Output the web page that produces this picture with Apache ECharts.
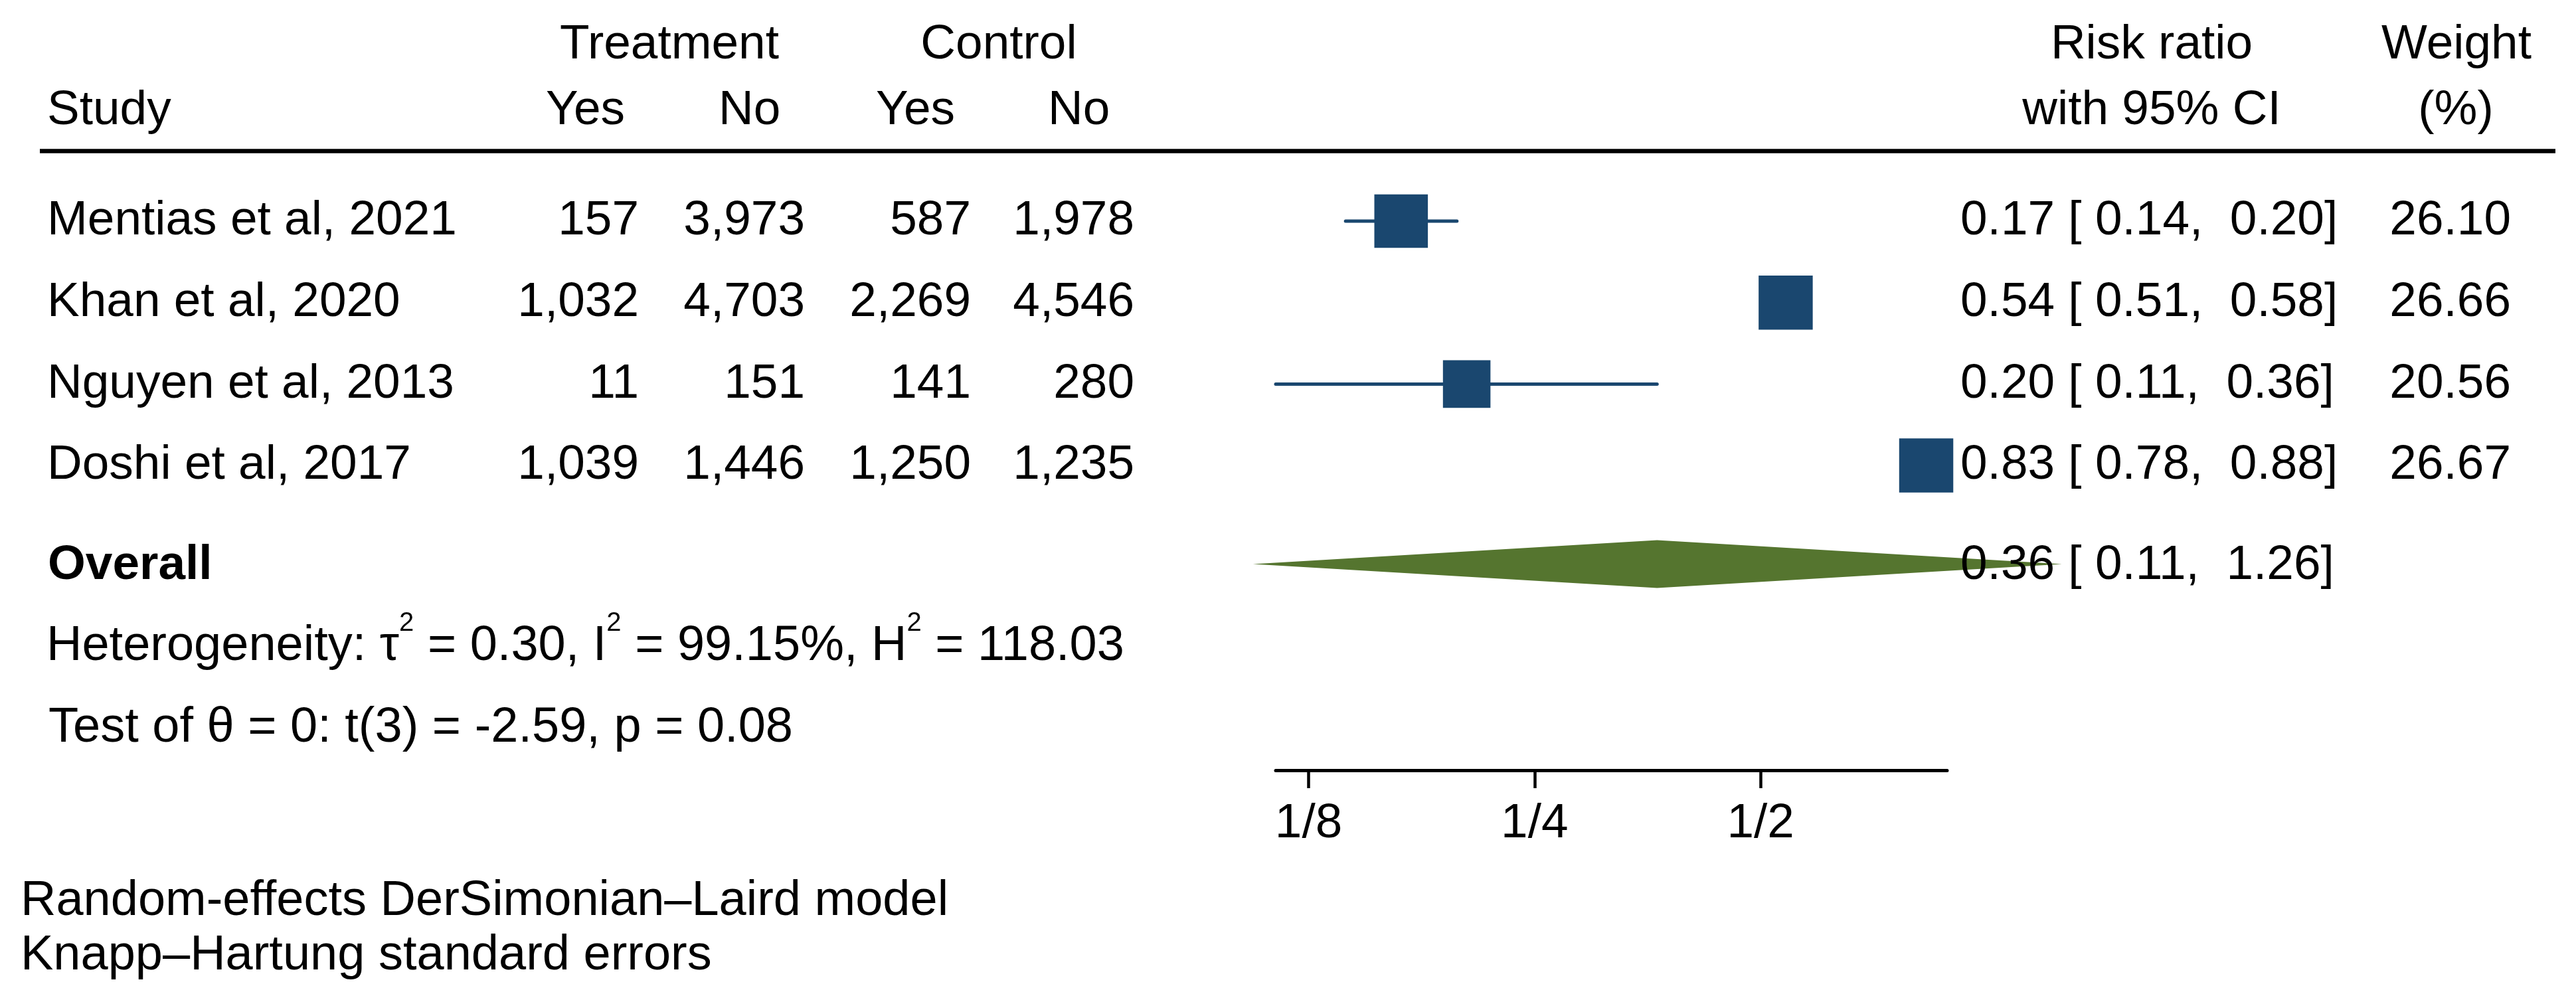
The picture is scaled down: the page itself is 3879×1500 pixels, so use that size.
<!DOCTYPE html>
<html>
<head>
<meta charset="utf-8">
<script src="https://cdn.jsdelivr.net/npm/echarts@6/dist/echarts.min.js"></script>
<style>
html,body{margin:0;padding:0;background:#ffffff;}
#chart{width:3879px;height:1500px;}
</style>
</head>
<body>
<div id="chart"></div>
<script>
// ---------------- data ----------------
const studies   = ['Mentias et al, 2021', 'Khan et al, 2020', 'Nguyen et al, 2013', 'Doshi et al, 2017'];
const treatYes  = [157, 1032, 11, 1039];
const treatNo   = [3973, 4703, 151, 1446];
const ctrlYes   = [587, 2269, 141, 1250];
const ctrlNo    = [1978, 4546, 280, 1235];
const riskRatio = [0.166, 0.540, 0.203, 0.831];
const ciLow     = [0.140, 0.510, 0.113, 0.780];
const ciHigh    = [0.197, 0.575, 0.364, 0.886];
const rrText    = ['0.17', '0.54', '0.20', '0.83'];
const lowText   = ['0.14', '0.51', '0.11', '0.78'];
const highText  = ['0.20', '0.58', '0.36', '0.88'];
const weights   = [26.10, 26.66, 20.56, 26.67];
const overallRR = 0.364, overallLow = 0.1054, overallHigh = 1.26;
const overallText = ['0.36', '0.11', '1.26'];
const tickValues = [0.125, 0.25, 0.5];
const tickLabels = ['1/8', '1/4', '1/2'];
const axisMin = 0.113, axisMax = 0.886;
const heterogeneity = ['0.30', '99.15%', '118.03'];
const testText = 'Test of θ = 0: t(3) = -2.59, p = 0.08';
const notes = ['Random-effects DerSimonian–Laird model', 'Knapp–Hartung standard errors'];

// ---------------- layout ----------------
const FONT = '"Liberation Sans", Arial, Helvetica, sans-serif';
const FS = 73;
const NAVY = '#1a476f';
const GREEN = '#55752f';
const ROW_H = 122.7;
const ROW0_Y = 333;
const AXIS_Y = 1160;
const GRID_L = 1921, GRID_R = 2932;
const OVERALL_ROW = 4.21;
const SQ_K = 15.78;
const DIAMOND_HALF = 36;

const log2 = Math.log2;
const xMin = log2(axisMin), xMax = log2(axisMax);
const yMin = -1;
const gridTop = ROW0_Y + yMin * ROW_H;
const yMax = yMin + (AXIS_Y - gridTop) / ROW_H;
const tickLogs = tickValues.map(log2);
const fmt = n => n.toLocaleString('en-US');
const font = (w, size) => (w ? w + ' ' : '') + (size || FS) + 'px ' + FONT;

function txt(text, x, y, align, weight, size) {
  return {type: 'text', style: {text: text, x: x, y: y, textAlign: align || 'left', textVerticalAlign: 'middle', font: font(weight, size), fill: '#000'}};
}

const chart = echarts.init(document.getElementById('chart'), null, {renderer: 'canvas'});

const option = {
  animation: false,
  backgroundColor: '#ffffff',
  grid: {left: GRID_L, top: gridTop, width: GRID_R - GRID_L, height: AXIS_Y - gridTop},
  xAxis: {
    type: 'value', min: xMin, max: xMax,
    axisLine: {show: true, onZero: false, lineStyle: {color: '#000', width: 5}},
    axisTick: {show: true, length: 27, lineStyle: {color: '#000', width: 4.5}, customValues: tickLogs},
    axisLabel: {
      show: true, customValues: tickLogs, margin: 44, color: '#000', fontSize: FS, fontFamily: FONT,
      formatter: function (v) {
        for (let i = 0; i < tickLogs.length; i++) if (Math.abs(tickLogs[i] - v) < 1e-6) return tickLabels[i];
        return '';
      }
    },
    splitLine: {show: false}
  },
  yAxis: {type: 'value', inverse: true, min: yMin, max: yMax, show: false},
  series: [
    { // confidence intervals
      type: 'custom', clip: false, z: 2,
      data: studies.map((s, i) => [log2(ciLow[i]), log2(ciHigh[i]), i]),
      encode: {x: [0, 1], y: 2},
      renderItem: function (params, api) {
        const a = api.coord([api.value(0), api.value(2)]);
        const b = api.coord([api.value(1), api.value(2)]);
        return {type: 'line', shape: {x1: a[0], y1: a[1], x2: b[0], y2: b[1]}, style: {stroke: NAVY, lineWidth: 5, lineCap: 'round'}};
      }
    },
    { // weighted squares
      type: 'custom', clip: false, z: 3,
      data: studies.map((s, i) => [log2(riskRatio[i]), i, weights[i]]),
      encode: {x: 0, y: 1},
      renderItem: function (params, api) {
        const c = api.coord([api.value(0), api.value(1)]);
        const s = SQ_K * Math.sqrt(api.value(2));
        return {type: 'rect', shape: {x: c[0] - s / 2, y: c[1] - s / 2, width: s, height: s}, style: {fill: NAVY}};
      }
    },
    { // overall diamond
      type: 'custom', clip: false, z: 2,
      data: [[log2(overallLow), log2(overallRR), log2(overallHigh), OVERALL_ROW]],
      encode: {x: [0, 1, 2], y: 3},
      renderItem: function (params, api) {
        const l = api.coord([api.value(0), api.value(3)]);
        const m = api.coord([api.value(1), api.value(3)]);
        const r = api.coord([api.value(2), api.value(3)]);
        return {type: 'polygon', shape: {points: [[l[0], l[1]], [m[0], m[1] - DIAMOND_HALF], [r[0], r[1]], [m[0], m[1] + DIAMOND_HALF]]}, style: {fill: GREEN}};
      }
    },
    { // study table text
      type: 'custom', clip: false, z: 10,
      data: studies.map((s, i) => [xMin, i]),
      encode: {x: 0, y: 1},
      renderItem: function (params, api) {
        const i = params.dataIndex;
        const y = api.coord([api.value(0), api.value(1)])[1];
        return {type: 'group', children: [
          txt(studies[i], 71, y, 'left'),
          txt(fmt(treatYes[i]), 962, y, 'right'),
          txt(fmt(treatNo[i]), 1212, y, 'right'),
          txt(fmt(ctrlYes[i]), 1462, y, 'right'),
          txt(fmt(ctrlNo[i]), 1708, y, 'right'),
          txt(rrText[i] + ' [ ' + lowText[i] + ',  ' + highText[i] + ']', 2952, y, 'left'),
          txt(weights[i].toFixed(2), 3781, y, 'right')
        ]};
      }
    },
    { // overall row text
      type: 'custom', clip: false, z: 10,
      data: [[xMin, OVERALL_ROW + 0.02]],
      encode: {x: 0, y: 1},
      renderItem: function (params, api) {
        const y = api.coord([api.value(0), api.value(1)])[1];
        return {type: 'group', children: [
          txt('Overall', 72, y, 'left', 'bold'),
          txt(overallText[0] + ' [ ' + overallText[1] + ',  ' + overallText[2] + ']', 2952, y, 'left')
        ]};
      }
    }
  ],
  graphic: [
    {type: 'line', shape: {x1: 60, y1: 227.5, x2: 3848, y2: 227.5}, style: {stroke: '#000', lineWidth: 6.5}},
    txt('Treatment', 1008, 67.5, 'center'),
    txt('Control', 1504, 67.5, 'center'),
    txt('Risk ratio', 3240, 67.5, 'center'),
    txt('Weight', 3699, 67.5, 'center'),
    txt('Study', 71, 167, 'left'),
    txt('Yes', 822, 167, 'left'),
    txt('No', 1082, 167, 'left'),
    txt('Yes', 1319, 167, 'left'),
    txt('No', 1578, 167, 'left'),
    txt('with 95% CI', 3240, 167, 'center'),
    txt('(%)', 3698, 167, 'center'),
    {type: 'text', style: {
      text: '{m|Heterogeneity: τ}{s|2}{m| = ' + heterogeneity[0] + ', I}{s|2}{m| = ' + heterogeneity[1] + ', H}{s|2}{m| = ' + heterogeneity[2] + '}',
      x: 70, y: 974, textAlign: 'left', textVerticalAlign: 'middle',
      font: font(null, 74), fill: '#000',
      rich: {
        m: {fontSize: 74, fontFamily: FONT, lineHeight: 110, verticalAlign: 'middle', fill: '#000'},
        s: {fontSize: 40, fontFamily: FONT, lineHeight: 40, verticalAlign: 'top', fill: '#000'}
      }
    }},
    txt(testText, 73, 1097, 'left', null, 74),
    txt(notes[0], 31, 1358, 'left', null, 74),
    txt(notes[1], 31, 1440, 'left', null, 74)
  ]
};
chart.setOption(option);
</script>
</body>
</html>
